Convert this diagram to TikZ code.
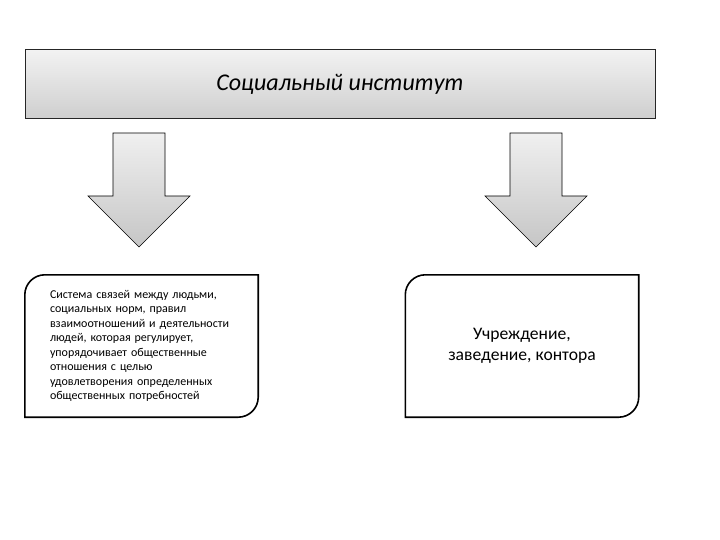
\documentclass[tikz,border=0pt]{standalone}
\usepackage{fontspec}
\setmainfont{Carlito}
\begin{document}
\begin{tikzpicture}[x=1pt,y=-1pt]
\tikzstyle{bar} = [draw=black!85, line width=0.8pt, top color=gray!10, bottom color=gray!38, minimum width=630pt, minimum height=69pt, inner sep=0pt]
\tikzstyle{card} = [minimum width=233pt, minimum height=142pt, inner sep=0pt]
\tikzstyle{border} = [draw=black, line width=1.6pt]
\tikzstyle{blockarrow} = [draw=black, line width=0.6pt, top color=gray!12, bottom color=gray!45]

\useasboundingbox (0,0) rectangle (720,540);

\node[bar, font=\fontsize{24}{28}\selectfont\itshape] (inst) at (340,84) {Социальный институт};
\node[card, text width=183pt, inner xsep=25pt, align=left, font=\fontsize{12}{14.5}\selectfont] (def) at (141.5,346)
  {Система связей между людьми,\\социальных норм, правил\\взаимоотношений и деятельности\\людей, которая регулирует,\\упорядочивает общественные\\отношения с целью\\удовлетворения определенных\\общественных потребностей};
\node[card, align=center, font=\fontsize{17.6}{21}\selectfont] (org) at (522,346) {Учреждение,\\заведение, контора};

\foreach \b in {def,org}
  \draw[border] (\b.south west) -- ([yshift=-20pt]\b.north west)
    .. controls ([yshift=-9pt]\b.north west) and ([xshift=9pt]\b.north west) .. ([xshift=20pt]\b.north west)
    -- (\b.north east) -- ([yshift=20pt]\b.south east)
    .. controls ([yshift=9pt]\b.south east) and ([xshift=-9pt]\b.south east) .. ([xshift=-20pt]\b.south east)
    -- cycle;

\foreach \c in {139,536}
  \draw[blockarrow] (\c-26,133) -- (\c+26,133) -- (\c+26,196) -- (\c+51,196) -- (\c,247) -- (\c-51,196) -- (\c-26,196) -- cycle;
\end{tikzpicture}
\end{document}
